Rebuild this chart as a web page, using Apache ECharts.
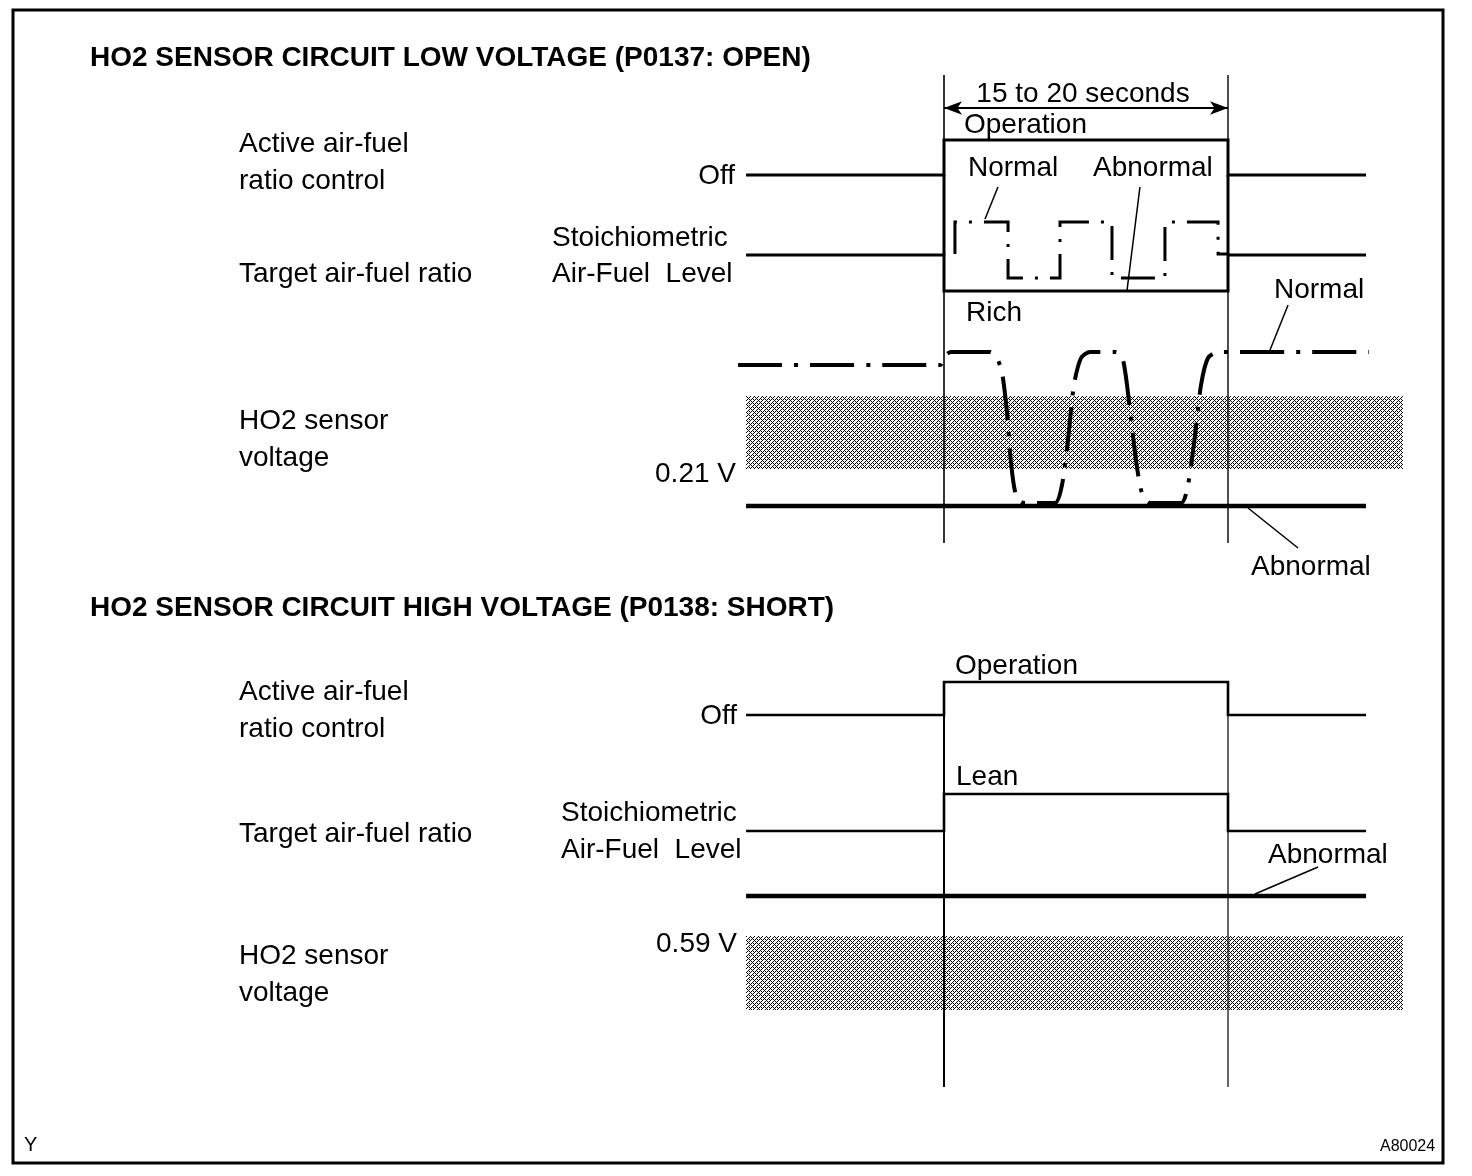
<!DOCTYPE html>
<html>
<head>
<meta charset="utf-8">
<script src="https://cdn.jsdelivr.net/npm/echarts@6/dist/echarts.min.js"></script>
<style>
html,body{margin:0;padding:0;background:#fff;}
#chart{width:1472px;height:1176px;}
</style>
</head>
<body>
<div id="chart"></div>
<script>
// ---------- DATA (time in seconds, level in diagram units) ----------
const opWindow = [0, 20];                       // active air-fuel control operation (s)
const spanLabel = ['15 to 20 seconds'];

// Panel 1 : P0137 OPEN
const ctrl1 = [[-13.94,175],[0,175],[0,140],[20,140],[20,175],[29.72,175]];
const ctrl1Edges = [[[0,175],[0,255]], [[20,175],[20,255]]];
const target1Abn = [[-13.94,255],[0,255],[0,291],[20,291],[20,255],[29.72,255]];
const target1Normal = [[0.77,254],[0.77,222],[4.51,222],[4.51,278],[8.17,278],[8.17,222],
  [11.83,222],[11.83,278],[15.56,278],[15.56,222],[19.30,222],[19.30,254],[20,254]];
const ho2Normal1 = [[-14.5,365],[-0.28,365],[0.05,356],[0.49,352],[3.24,352],[3.66,356],[4.08,372],
  [4.44,413],[4.72,463],[5.07,495],[5.63,503],[7.82,503],[8.31,485],[8.73,440],[9.15,385],
  [9.65,358],[10.28,352],[12.11,352],[12.61,360],[13.10,410],[13.52,460],[13.94,493],[14.51,503],
  [16.69,503],[17.18,485],[17.68,435],[18.10,385],[18.59,358],[19.30,352],[29.93,352]];
const ho2Abn1 = [[-13.94,506],[29.72,506]];
const band1 = [[-13.94,396],[32.32,469]];
const ref1 = [75, 543];
const arrowLevel1 = 108;
const leaders1 = [[[3.80,187],[2.89,219]], [[13.80,187],[12.89,290]], [[24.23,305],[22.96,350]], [[21.41,508],[24.93,548]]];

// Panel 2 : P0138 SHORT
const ctrl2 = [[-13.94,715],[0,715],[0,682],[20,682],[20,715],[29.72,715]];
const target2 = [[-13.94,831],[0,831],[0,794],[20,794],[20,831],[29.72,831]];
const ho2Abn2 = [[-13.94,896],[29.72,896]];
const band2 = [[-13.94,936],[32.32,1010]];
const ref2 = [682, 1087];
const leaders2 = [[[21.90,894],[26.34,867]]];

const titles = ['HO2 SENSOR CIRCUIT LOW VOLTAGE (P0137: OPEN)', 'HO2 SENSOR CIRCUIT HIGH VOLTAGE (P0138: SHORT)'];
const rowLabels = [['Active air-fuel','ratio control'], ['Target air-fuel ratio'], ['HO2 sensor','voltage']];
const levelLabels = ['Off', 'Stoichiometric', 'Air-Fuel  Level', '0.21 V', '0.59 V'];
const stateLabels = ['Operation', 'Normal', 'Abnormal', 'Rich', 'Lean'];
const cornerLabels = ['Y', 'A80024'];

// ---------- LAYOUT ----------
const W = 1472, H = 1176;
const PX_PER_S = 14.2, T0_PX = 944;
const FONT = '"Liberation Sans", Arial, Helvetica, sans-serif';
const FS = 28;
const DY = 2;

// dither pattern for the voltage bands
const pc = document.createElement('canvas');
pc.width = 8; pc.height = 8;
const pctx = pc.getContext('2d');
pctx.fillStyle = '#fff'; pctx.fillRect(0,0,8,8);
pctx.fillStyle = '#000';
for (let y = 0; y < 8; y++) for (let x = 0; x < 8; x++) {
  const skip = (x % 4 === 0 && y % 4 === 0) || (x % 4 === 2 && y % 4 === 2) ||
               (x % 8 === 3 && y % 8 === 1) || (x % 8 === 7 && y % 8 === 5);
  if ((x + y) % 2 === 0 && !skip) pctx.fillRect(x, y, 1, 1);
}
const bandFill = { image: pc, repeat: 'repeat' };

function line(data, width, dash, smooth) {
  return { type: 'line', data: data, symbol: 'none', silent: true, smooth: smooth || false,
    animation: false, lineStyle: { color: '#000', width: width, type: dash || 'solid', cap: 'butt', join: 'miter' },
    z: 3 };
}
function segs(list, width) { return list.map(s => line(s, width)); }

const series = [];
// bands
series.push({ type: 'line', data: [], silent: true, animation: false,
  markArea: { silent: true, itemStyle: { color: bandFill, borderWidth: 0 },
    data: [[{ coord: band1[0] }, { coord: band1[1] }], [{ coord: band2[0] }, { coord: band2[1] }]] }, z: 1 });
// reference verticals
series.push(line([[opWindow[0], ref1[0]],[opWindow[0], ref1[1]]], 1.6));
series.push(line([[opWindow[1], ref1[0]],[opWindow[1], ref1[1]]], 1.4));
series.push(line([[opWindow[0], ref2[0]],[opWindow[0], ref2[1]]], 2));
series.push(line([[opWindow[1], ref2[0]],[opWindow[1], ref2[1]]], 1.2));
// arrow span
series.push({ type: 'line', data: [], silent: true, animation: false,
  markLine: { silent: true, symbol: ['arrow','arrow'], symbolSize: [10, 18], label: { show: false },
    lineStyle: { color: '#000', width: 2, type: 'solid' },
    data: [[{ coord: [opWindow[0], arrowLevel1] }, { coord: [opWindow[1], arrowLevel1] }]] } });
// panel 1 signals
series.push(line(ctrl1, 3));
series.push(...segs(ctrl1Edges, 3));
series.push(line(target1Abn, 3));
series.push(line(target1Normal, 3, [34, 12, 3, 12]));
series.push(line(ho2Normal1, 4, [44, 12, 4, 12], 0.25));
series.push(line(ho2Abn1, 4.5));
series.push(...segs(leaders1, 1.5));
// panel 2 signals
series.push(line(ctrl2, 2.6));
series.push(line(target2, 2.6));
series.push(line(ho2Abn2, 4.5));
series.push(...segs(leaders2, 1.5));

function txt(s, x, y, opts) {
  opts = opts || {};
  return { type: 'text', x: x, y: y + DY, silent: true, z: 10,
    style: { text: s, fill: '#000', font: (opts.bold ? 'bold ' : '') + (opts.size || FS) + 'px ' + FONT,
      textAlign: opts.align || 'left', textVerticalAlign: 'middle' } };
}

const graphics = [
  { type: 'rect', shape: { x: 13, y: 10, width: 1430, height: 1153 }, silent: true,
    style: { fill: 'none', stroke: '#000', lineWidth: 3 }, z: 10 },
  txt(titles[0], 90, 56, { bold: true }),
  txt(spanLabel[0], 1083, 92, { align: 'center' }),
  txt(stateLabels[0], 964, 123),
  txt(rowLabels[0][0], 239, 142), txt(rowLabels[0][1], 239, 179),
  txt(levelLabels[0], 735, 174, { align: 'right' }),
  txt(stateLabels[1], 968, 166), txt(stateLabels[2], 1093, 166),
  txt(levelLabels[1], 552, 236), txt(levelLabels[2], 552, 272),
  txt(rowLabels[1][0], 239, 272),
  txt(stateLabels[3], 966, 311),
  txt(stateLabels[1], 1274, 288),
  txt(rowLabels[2][0], 239, 419), txt(rowLabels[2][1], 239, 456),
  txt(levelLabels[3], 736, 472, { align: 'right' }),
  txt(stateLabels[2], 1251, 565),

  txt(titles[1], 90, 606, { bold: true }),
  txt(stateLabels[0], 955, 664),
  txt(rowLabels[0][0], 239, 690), txt(rowLabels[0][1], 239, 727),
  txt(levelLabels[0], 737, 714, { align: 'right' }),
  txt(stateLabels[4], 956, 775),
  txt(levelLabels[1], 561, 811), txt(levelLabels[2], 561, 848),
  txt(rowLabels[1][0], 239, 832),
  txt(stateLabels[2], 1268, 853),
  txt(levelLabels[4], 737, 942, { align: 'right' }),
  txt(rowLabels[2][0], 239, 954), txt(rowLabels[2][1], 239, 991),

  txt(cornerLabels[0], 24, 1143, { size: 20 }),
  txt(cornerLabels[1], 1380, 1145, { size: 16 })
];

const chart = echarts.init(document.getElementById('chart'), null, { renderer: 'canvas', width: W, height: H });
chart.setOption({
  backgroundColor: '#fff',
  animation: false,
  grid: { left: 0, right: 0, top: 0, bottom: 0, containLabel: false },
  xAxis: { type: 'value', min: -T0_PX / PX_PER_S, max: (W - T0_PX) / PX_PER_S, show: false },
  yAxis: { type: 'value', min: 0, max: H, inverse: true, show: false },
  series: series,
  graphic: graphics
});
</script>
</body>
</html>
